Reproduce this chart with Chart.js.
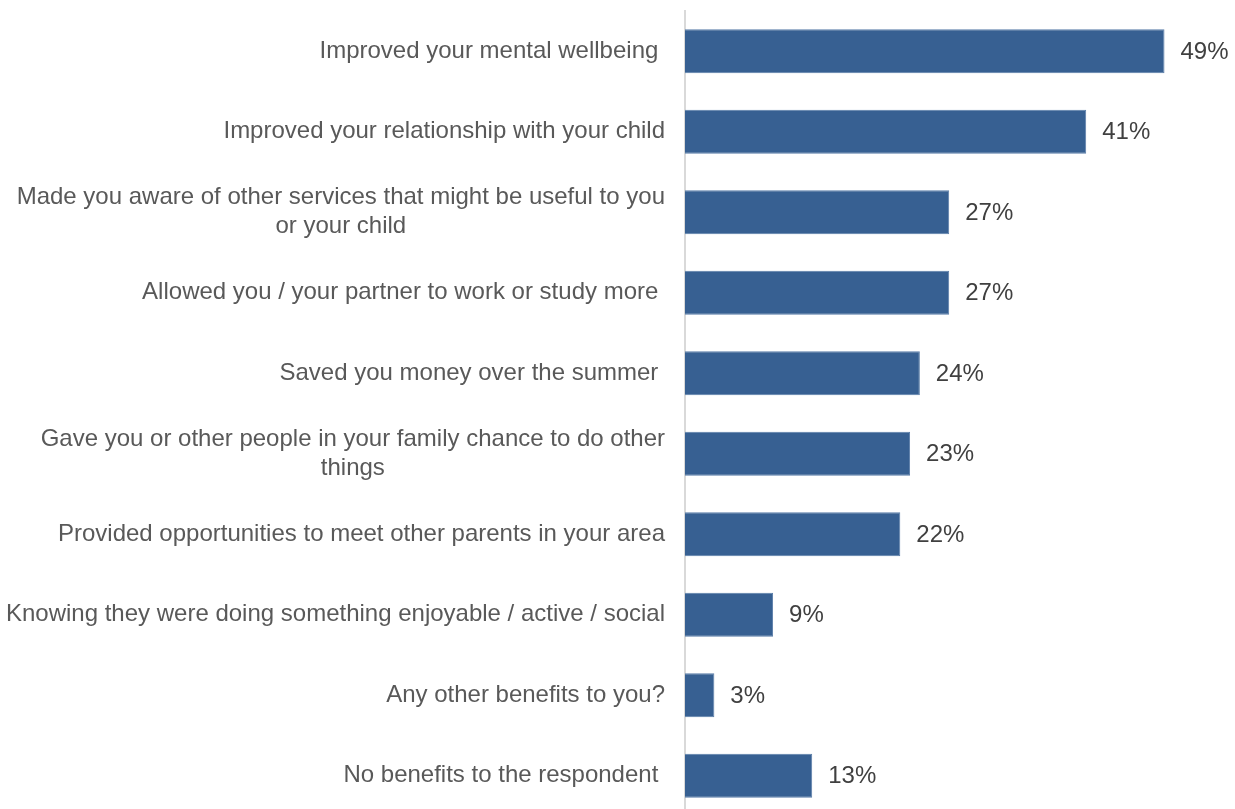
<!DOCTYPE html>
<html>
<head>
<meta charset="utf-8">
<script src="https://cdn.jsdelivr.net/npm/chart.js@4/dist/chart.umd.min.js"></script>
<style>
html,body{margin:0;padding:0;background:#fff;overflow:hidden;}
#wrap{width:1235px;height:816px;}
</style>
</head>
<body>
<div id="wrap"><canvas id="c" width="1235" height="816"></canvas></div>
<script>
const categories = [
  ["Improved your mental wellbeing "],
  ["Improved your relationship with your child"],
  ["Made you aware of other services that might be useful to you", "or your child"],
  ["Allowed you / your partner to work or study more "],
  ["Saved you money over the summer "],
  ["Gave you or other people in your family chance to do other", "things"],
  ["Provided opportunities to meet other parents in your area"],
  ["Knowing they were doing something enjoyable / active / social"],
  ["Any other benefits to you?"],
  ["No benefits to the respondent "]
];
const values = [49, 41, 27, 27, 24, 23, 22, 9, 3, 13];
const valueLabels = ["49%", "41%", "27%", "27%", "24%", "23%", "22%", "9%", "3%", "13%"];

const FONT = '24px "Liberation Sans", Arial, sans-serif';

const labelPlugin = {
  id: 'labels',
  afterDatasetsDraw(chart) {
    const ctx = chart.ctx;
    const y = chart.scales.y;
    const meta = chart.getDatasetMeta(0);
    ctx.save();
    ctx.font = FONT;
    ctx.textBaseline = 'middle';
    const lh = 29;
    const rightEdge = chart.chartArea.left - 20;
    categories.forEach((lines, i) => {
      const cy = y.getPixelForValue(i);
      const widths = lines.map(l => ctx.measureText(l).width);
      const maxW = Math.max(...widths);
      const center = rightEdge - maxW / 2;
      ctx.fillStyle = '#595959';
      ctx.textAlign = 'center';
      lines.forEach((l, j) => {
        const ly = cy + (j - (lines.length - 1) / 2) * lh;
        ctx.fillText(l, center, ly);
      });
      const bar = meta.data[i];
      ctx.fillStyle = '#404040';
      ctx.textAlign = 'left';
      ctx.fillText(valueLabels[i], bar.x + 16, cy + 1);
    });
    ctx.restore();
  }
};

new Chart(document.getElementById('c'), {
  type: 'bar',
  data: {
    labels: categories.map(c => c.join(' ')),
    datasets: [{
      data: values,
      backgroundColor: '#376092',
      borderColor: '#5A7DA8',
      borderWidth: 1,
      borderSkipped: 'left',
      categoryPercentage: 1,
      barPercentage: 0.545
    }]
  },
  options: {
    indexAxis: 'y',
    responsive: false,
    devicePixelRatio: 1,
    animation: false,
    layout: { padding: { top: 11, right: 2, left: 0, bottom: 0 } },
    plugins: { legend: { display: false }, tooltip: { enabled: false } },
    scales: {
      x: {
        display: false,
        min: 0,
        max: 56
      },
      y: {
        grid: { display: false, drawTicks: false },
        border: { display: true, color: '#D9D9D9', width: 2 },
        ticks: { display: false },
        afterFit(s) { s.width = 685; }
      }
    }
  },
  plugins: [labelPlugin]
});
</script>
</body>
</html>
